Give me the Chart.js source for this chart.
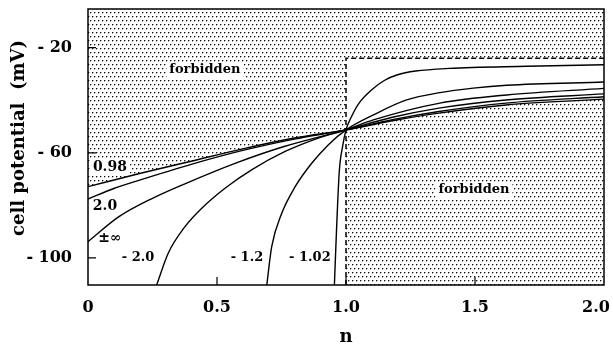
<!DOCTYPE html>
<html>
<head>
<meta charset="utf-8">
<script src="https://cdn.jsdelivr.net/npm/chart.js@4.4.0/dist/chart.umd.min.js"></script>
<style>
  html, body { margin: 0; padding: 0; background: #fff; }
</style>
</head>
<body>
<canvas id="chart" width="613" height="348"></canvas>
<script>
// cell potential (mV) against n, one curve per parameter value
// points as [n, mV]
const curveM102 = [[0.955,-110.3],[0.963,-90],[0.974,-67],[0.987,-57.5],[1,-51.3],[1.02,-46.5],[1.05,-41.2],[1.1,-36],[1.15,-32.4],[1.2,-30.3],[1.27,-28.9],[1.4,-27.9],[1.7,-27.1],[2,-26.5]];
const curveM12  = [[0.693,-110.3],[0.712,-95.7],[0.751,-83],[0.803,-72.9],[0.867,-64],[0.931,-57],[1,-51.3],[1.106,-45.6],[1.235,-39.9],[1.364,-37.1],[1.493,-35.4],[1.623,-34.3],[2,-33.1]];
const curveM20  = [[0.266,-110.3],[0.311,-98.2],[0.376,-88.1],[0.441,-81.1],[0.531,-73.5],[0.634,-66.5],[0.764,-59.5],[0.893,-54.4],[1,-51.3],[1.106,-47.5],[1.364,-41.1],[1.623,-38],[2,-35.5]];
const curveInf  = [[0,-93.8],[0.12,-84.3],[0.25,-77.3],[0.38,-71.6],[0.57,-64],[0.76,-57.6],[1,-51.3],[1.18,-46.5],[1.36,-43],[1.62,-39.9],[2,-37.6]];
const curve20   = [[0,-77.6],[0.1,-73.6],[0.2,-70.4],[0.4,-64.4],[0.6,-59.1],[0.8,-54.8],[1,-51.3],[1.18,-47.4],[1.36,-44.3],[1.62,-41.1],[2,-38.7]];
const curve098  = [[0,-72.9],[0.2,-67.9],[0.4,-63.2],[0.6,-58.5],[0.8,-54.4],[1,-51.3],[1.18,-47.8],[1.36,-44.9],[1.62,-41.8],[2,-39.6]];
const windowLine = [[1,-110.3],[1,-24],[2,-24]];

const xTicks = [0, 0.5, 1, 1.5, 2];
const yTicks = [-100, -60, -20];

const notes = [
  { text: 'forbidden', n: 0.453, v: -28.5, box: true },
  { text: 'forbidden', n: 1.496, v: -74.1, box: true },
  { text: '0.98', n: 0.085, v: -65.4, box: true },
  { text: '2.0', n: 0.066, v: -80.2 },
  { text: '\u00b1\u221e', n: 0.085, v: -92.7 },
  { text: '- 2.0', n: 0.194, v: -100 },
  { text: '- 1.2', n: 0.616, v: -100 },
  { text: '- 1.02', n: 0.86, v: -100, box: true },
];

const serif = "'DejaVu Serif', serif";
const canvas = document.getElementById('chart');
const ctx = canvas.getContext('2d');

// staggered stipple used for the forbidden regions
const tile = document.createElement('canvas');
tile.width = 4; tile.height = 8;
const tctx = tile.getContext('2d');
tctx.fillStyle = '#aaa';
[[1,0],[0,1],[3,4],[2,5]].forEach(([px, py]) => tctx.fillRect(px, py, 1, 1));
tctx.fillStyle = '#111';
tctx.fillRect(0, 0, 1, 1);
tctx.fillRect(2, 4, 1, 1);
const dots = ctx.createPattern(tile, 'repeat');

const pts = a => a.map(([x, y]) => ({ x, y }));

function curve(data) {
  return {
    data: pts(data), showLine: true, fill: false,
    borderColor: '#000', borderWidth: 1.4, pointRadius: 0,
    cubicInterpolationMode: 'monotone'
  };
}

function shade(data, target) {
  return {
    data: pts(data), showLine: true, fill: target,
    borderWidth: 0, borderColor: 'rgba(0,0,0,0)', backgroundColor: dots,
    pointRadius: 0, cubicInterpolationMode: 'monotone'
  };
}

const frame = {
  id: 'frame',
  afterDatasetsDraw(chart) {
    const { ctx, chartArea: a, scales: { x, y } } = chart;
    ctx.save();
    ctx.strokeStyle = '#000';
    ctx.lineWidth = 1.5;
    ctx.strokeRect(a.left, a.top, a.right - a.left, a.bottom - a.top);
    ctx.lineWidth = 1.2;
    ctx.beginPath();
    yTicks.forEach(v => {
      const py = y.getPixelForValue(v);
      ctx.moveTo(a.left, py); ctx.lineTo(a.left + 8, py);
    });
    xTicks.slice(1, -1).forEach(v => {
      const px = x.getPixelForValue(v);
      ctx.moveTo(px, a.bottom); ctx.lineTo(px, a.bottom - 8);
    });
    ctx.stroke();

    ctx.textAlign = 'center';
    ctx.textBaseline = 'middle';
    notes.forEach(nt => {
      ctx.font = 'bold ' + (nt.text[0] === '-' || nt.text === 'forbidden' ? 13 : 14) + 'px ' + serif;
      const px = x.getPixelForValue(nt.n);
      const py = y.getPixelForValue(nt.v);
      if (nt.box) {
        const w = ctx.measureText(nt.text).width;
        ctx.fillStyle = '#fff';
        ctx.fillRect(px - w / 2 - 3, py - 8, w + 6, 16);
      }
      ctx.fillStyle = '#000';
      ctx.fillText(nt.text, px, py);
    });
    ctx.restore();
  }
};

new Chart(canvas, {
  type: 'scatter',
  data: {
    datasets: [
      curve(curveM102),
      curve(curveM12),
      curve(curveM20),
      curve(curveInf),
      curve(curve20),
      curve(curve098),
      { data: pts(windowLine), showLine: true, fill: false, borderColor: '#000',
        borderWidth: 1.5, borderDash: [5, 3], pointRadius: 0, tension: 0 },
      shade(curve098.filter(p => p[0] <= 1), 'end'),
      shade(windowLine.slice(1), 'end'),
      shade(curve098.filter(p => p[0] >= 1), 'start'),
    ]
  },
  options: {
    responsive: false,
    animation: false,
    devicePixelRatio: 1,
    layout: { padding: { top: 9, right: 9, left: 0, bottom: 0 } },
    plugins: {
      legend: { display: false },
      tooltip: { enabled: false },
      filler: { drawTime: 'beforeDatasetsDraw' }
    },
    scales: {
      x: {
        type: 'linear', min: 0, max: 2,
        afterBuildTicks: s => { s.ticks = xTicks.map(v => ({ value: v })); },
        afterFit: s => { s.height = 63; s.paddingLeft = 0; s.paddingRight = 0; },
        grid: { display: false },
        border: { display: false },
        ticks: {
          color: '#000', padding: 5,
          font: { family: serif, weight: 'bold', size: 16 },
          callback: v => v === 0 ? '0' : (v === 2 ? '2.0\u2003' : v.toFixed(1))
        },
        title: {
          display: true, text: 'n', color: '#000',
          font: { family: serif, weight: 'bold', size: 18 },
          padding: { top: 0, bottom: 0 }
        }
      },
      y: {
        min: -110.3, max: -5.3,
        afterBuildTicks: s => { s.ticks = yTicks.map(v => ({ value: v })); },
        afterFit: s => { s.width = 88; s.paddingTop = 0; s.paddingBottom = 0; },
        grid: { display: false },
        border: { display: false },
        ticks: {
          color: '#000', padding: 8,
          font: { family: serif, weight: 'bold', size: 16 },
          callback: v => '- ' + Math.abs(v)
        },
        title: {
          display: true, text: '\u2003cell potential  (mV)', color: '#000',
          font: { family: serif, weight: 'bold', size: 18 },
          padding: { top: 9, bottom: 0 }
        }
      }
    }
  },
  plugins: [frame]
});
</script>
</body>
</html>
